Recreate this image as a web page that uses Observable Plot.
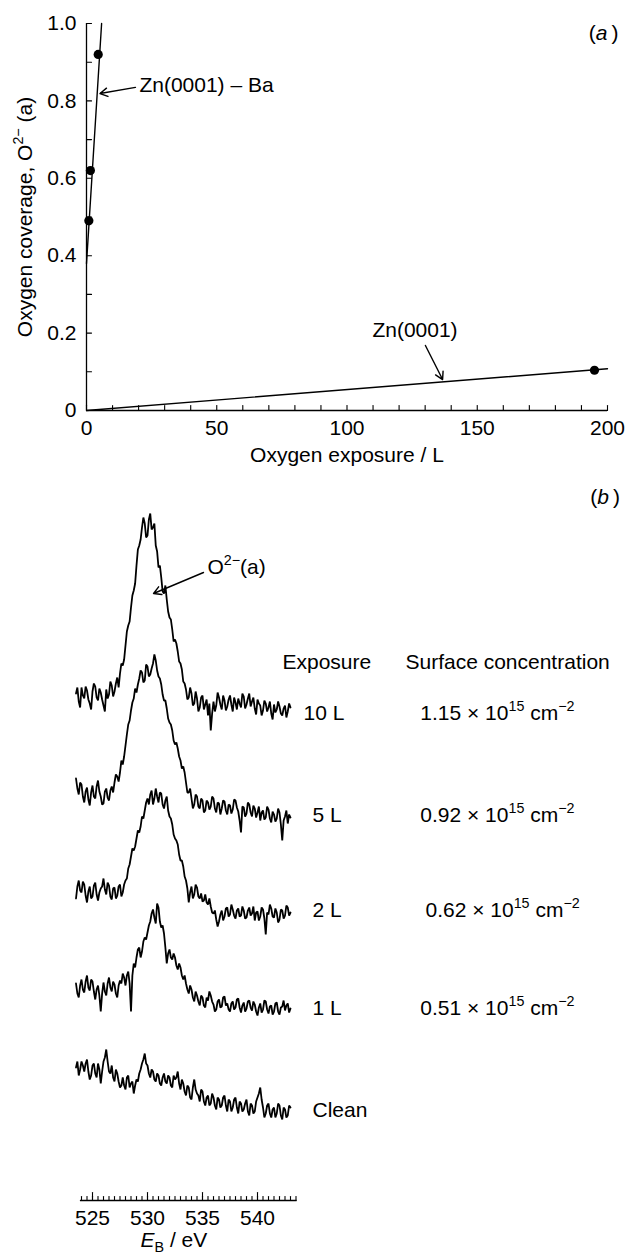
<!DOCTYPE html>
<html><head><meta charset="utf-8">
<script src="https://cdn.jsdelivr.net/npm/d3@7"></script>
<script src="https://cdn.jsdelivr.net/npm/@observablehq/plot@0.6"></script>
<style>
body{margin:0;background:#fff}
#chart{width:629px}
#chart svg{display:block;overflow:visible}
</style>
</head><body><div id="chart"></div>
<script>
// ---------- Panel (a) data ----------
const baExposure = [0.9, 1.5, 4.5];
const baCoverage = [0.49, 0.62, 0.92];
const znExposure = [195];
const znCoverage = [0.104];
const baFitExposure = [0, 5.8];
const baFitCoverage = [0.38, 1.0];
const znFitExposure = [0, 200];
const znFitCoverage = [0, 0.108];
const xTicksA = [0, 50, 100, 150, 200];
const xTickLabelsA = ["0", "50", "100", "150", "200"];
const xMinorA = [0,10,20,30,40,50,60,70,80,90,100,110,120,130,140,150,160,170,180,190,200];
const yTicksA = [0, 0.2, 0.4, 0.6, 0.8, 1.0];
const yTickLabelsA = ["0", "0.2", "0.4", "0.6", "0.8", "1.0"];
const yMinorA = [0.1,0.2,0.3,0.4,0.5,0.6,0.7,0.8,0.9,1.0];

// ---------- Panel (b) data ----------
const E0 = 523.5, dE = 0.125; // sampling grid of the spectra, eV
const exposures = ["10 L", "5 L", "2 L", "1 L", "Clean"];
const concentrations = ["1.15 × 10^{15} cm^{−2}", "0.92 × 10^{15} cm^{−2}", "0.62 × 10^{15} cm^{−2}", "0.51 × 10^{15} cm^{−2}"];
const offsets = [505, 410, 310, 213, 133];
const s10 = [2,8,-6,-12,8,0,-3,9,5,-4,-8,-14,4,12,9,-2,-5,7,3,-4,-10,-16,6,-3,1,14,10,-1,4,12,18,8,22,32,30,36,50,64,70,74,88,100,105,112,130,146,150,156,168,178,172,158,160,176,182,166,168,172,150,144,128,130,118,104,102,110,96,84,78,76,66,54,56,52,44,34,32,26,14,12,6,-4,-2,8,2,-10,-8,4,-3,-16,-12,-2,0,-14,-9,-4,-20,-8,-35,-18,-6,-16,-10,3,-2,-9,-14,0,-5,-15,-11,-4,0,-9,-16,-2,-7,-14,-3,-8,-12,2,-1,-13,-9,-3,2,-11,-6,-2,-13,-19,-4,-8,-10,-20,-15,-5,-8,-16,-12,-6,-18,-24,-9,-17,-14,-6,-11,-18,-20,-13,-10,-22,-16,-8,-12];
const s5 = [12,2,-4,8,6,-6,-12,-1,3,-9,-15,-2,5,-6,-8,4,10,-1,-6,-14,-13,-1,2,-7,-10,0,4,-2,8,16,14,9,18,30,26,34,45,56,66,70,80,88,92,102,98,106,112,120,118,108,110,126,124,114,116,122,127,136,130,120,114,112,106,96,90,90,82,72,68,66,60,50,46,48,42,34,30,22,24,18,8,-2,-2,2,-8,-18,-14,-4,-6,-16,-18,-8,-10,-22,-20,-10,-12,-19,-16,-6,-8,-18,-22,-12,-13,-24,-18,-10,-11,-20,-24,-14,-15,-23,-19,-9,-10,-17,-21,-30,-42,-16,-17,-26,-23,-12,-14,-22,-26,-15,-18,-27,-22,-16,-30,-22,-20,-29,-27,-16,-19,-28,-32,-21,-24,-31,-28,-18,-22,-34,-50,-30,-26,-20,-33,-24,-27];
const s2 = [-8,4,10,0,-2,9,6,-5,-12,-1,4,-8,-6,5,8,-4,-10,-2,2,4,12,1,-4,8,5,-6,-9,2,3,-8,-5,4,6,-6,-2,6,10,12,22,26,34,42,40,44,52,60,58,64,74,72,80,88,92,86,96,100,86,92,102,94,88,98,97,86,82,90,94,80,74,72,66,56,52,50,46,36,30,30,24,14,10,2,-12,-2,4,-8,-4,6,3,-6,-8,-3,-11,-10,-4,-12,-14,-8,-16,-22,-23,-20,-29,-36,-31,-24,-20,-30,-26,-18,-17,-26,-24,-14,-19,-25,-28,-20,-18,-26,-25,-16,-20,-28,-27,-20,-17,-25,-23,-16,-30,-22,-21,-30,-26,-17,-19,-28,-44,-22,-24,-14,-18,-26,-27,-18,-22,-32,-29,-19,-20,-28,-25,-15,-17,-25,-22];
const s1 = [4,-6,-10,2,8,-2,-5,6,12,0,-3,8,6,-4,-12,-2,2,-8,-24,-6,5,-4,-8,4,10,0,-4,6,3,-6,-10,2,7,4,14,10,2,12,16,4,-24,12,24,20,30,38,40,30,36,46,50,48,55,62,66,74,78,70,64,84,80,66,60,62,54,40,24,34,38,30,28,34,30,22,18,24,20,12,8,12,4,-2,-6,2,-2,-10,-14,-4,-8,-14,-18,-8,-10,-18,-20,-10,-13,-4,-8,-14,-17,-24,-22,-14,-12,-20,-19,-10,-9,-18,-16,-22,-24,-16,-14,-22,-20,-12,-11,-20,-25,-18,-15,-24,-21,-14,-13,-20,-23,-14,-17,-24,-28,-20,-16,-25,-22,-13,-14,-22,-26,-19,-18,-27,-24,-16,-15,-24,-27,-20,-19,-13,-23,-18,-16,-25,-21];
const s0 = [0,6,-8,-2,6,2,-4,4,8,-4,-12,-8,2,4,-6,-10,4,-2,-16,-4,6,10,18,6,-4,-6,2,-10,-14,-2,-6,-14,-20,-18,-10,-18,-22,-10,-8,-20,-16,-14,-26,-18,-12,-14,-6,-2,4,8,14,4,2,-6,-10,-2,-4,-12,-14,-6,-8,-16,-18,-10,-6,-14,-16,-8,-10,-18,-20,-8,-12,-10,-4,-16,-22,-12,-16,-24,-28,-18,-20,-30,-32,-20,-12,-22,-26,-28,-34,-22,-24,-34,-38,-30,-28,-38,-36,-26,-30,-38,-42,-30,-32,-40,-38,-30,-28,-38,-44,-32,-34,-44,-40,-32,-30,-40,-46,-34,-36,-44,-42,-36,-32,-44,-48,-36,-38,-46,-44,-34,-30,-26,-20,-32,-40,-50,-46,-38,-36,-46,-50,-42,-40,-50,-46,-36,-38,-48,-52,-40,-42,-50,-48,-38,-40];
const spectra = [s10, s5, s2, s1, s0];
const xTicksB = [525, 530, 535, 540];
const xTickLabelsB = ["525", "530", "535", "540"];
const xMinorB = d3.range(524, 543.51, 0.5);

const FONT = "'Liberation Sans', Arial, Helvetica, sans-serif";
const FS = 21;
const tickShape = {draw(ctx, l) { ctx.moveTo(0, 0); ctx.lineTo(0, -l); }};

function richify(svg, base) {
  const ns = "http://www.w3.org/2000/svg";
  svg.querySelectorAll("text").forEach(t => {
    const s = t.textContent;
    if (!/\^\{|_\{|\*/.test(s)) return;
    while (t.firstChild) t.removeChild(t.firstChild);
    const parts = s.split(/(\^\{[^}]*\}|_\{[^}]*\}|\*[^*]+\*)/).filter(p => p);
    let cur = 0;
    for (const p of parts) {
      let txt = p, shift = 0, small = false, italic = false;
      if (p.startsWith("^{")) { txt = p.slice(2, -1); shift = -0.42; small = true; }
      else if (p.startsWith("_{")) { txt = p.slice(2, -1); shift = 0.25; small = true; }
      else if (p.length > 2 && p[0] === "*" && p[p.length - 1] === "*") { txt = p.slice(1, -1); italic = true; }
      const ts = document.createElementNS(ns, "tspan");
      const dy = (shift - cur) * base;
      if (dy) ts.setAttribute("dy", dy.toFixed(2));
      if (small) ts.setAttribute("font-size", (base * 0.68).toFixed(1));
      if (italic) ts.setAttribute("font-style", "italic");
      ts.textContent = txt;
      t.appendChild(ts);
      cur = shift;
    }
  });
}

// ---------- Panel (a) ----------
const plotA = Plot.plot({
  width: 629, height: 470,
  marginLeft: 86, marginRight: 22, marginTop: 23, marginBottom: 60,
  x: {domain: [0, 200], axis: null},
  y: {domain: [0, 1], axis: null},
  style: {fontFamily: FONT, fontSize: FS + "px", background: "white", color: "black"},
  marks: [
    Plot.ruleY([0], {x1: 0, x2: 200, stroke: "black", strokeWidth: 1.3}),
    Plot.ruleX([0], {y1: 0, y2: 1, stroke: "black", strokeWidth: 1.3}),
    Plot.vector(xMinorA, {x: d => d, y: 0, length: 5, rotate: 0, anchor: "start", shape: tickShape, stroke: "black", strokeWidth: 1.1}),
    Plot.vector(yMinorA, {x: 0, y: d => d, length: 5, rotate: 90, anchor: "start", shape: tickShape, stroke: "black", strokeWidth: 1.1}),
    Plot.text(xTicksA, {x: d => d, y: 0, text: (d, i) => xTickLabelsA[i], dy: 18, fontSize: FS, fill: "black"}),
    Plot.text(yTicksA, {x: 0, y: d => d, text: (d, i) => yTickLabelsA[i], dx: -10, textAnchor: "end", fontSize: FS, fill: "black"}),
    Plot.text(["Oxygen exposure / L"], {frameAnchor: "bottom", lineAnchor: "middle", dy: 45, fontSize: FS, fill: "black"}),
    Plot.text(["Oxygen coverage, O^{2−} (a)"], {frameAnchor: "left", textAnchor: "middle", lineAnchor: "middle", dx: -61, rotate: -90, fontSize: FS, fill: "black"}),
    Plot.line(baFitExposure, {x: d => d, y: (d, i) => baFitCoverage[i], stroke: "black", strokeWidth: 1.4}),
    Plot.line(znFitExposure, {x: d => d, y: (d, i) => znFitCoverage[i], stroke: "black", strokeWidth: 1.4}),
    Plot.dot(baExposure, {x: d => d, y: (d, i) => baCoverage[i], r: 4.6, fill: "black"}),
    Plot.dot(znExposure, {x: d => d, y: (d, i) => znCoverage[i], r: 4.6, fill: "black"}),
    Plot.text(["Zn(0001) – Ba"], {x: 20.3, y: 0.84, textAnchor: "start", fontSize: FS, fill: "black"}),
    Plot.arrow([0], {x1: 18.8, y1: 0.835, x2: 5.2, y2: 0.819, stroke: "black", strokeWidth: 1.4, headLength: 9}),
    Plot.text(["Zn(0001)"], {x: 126.1, y: 0.207, fontSize: FS, fill: "black"}),
    Plot.arrow([0], {x1: 130.1, y1: 0.168, x2: 136.7, y2: 0.080, stroke: "black", strokeWidth: 1.4, headLength: 9}),
    Plot.text(["(*a*\u2009)"], {x: 198.5, y: 0.974, fontSize: FS, fill: "black"})
  ]
});

// ---------- Panel (b) ----------
const rowsB = [];
spectra.forEach((arr, k) => arr.forEach((v, i) => rowsB.push({E: E0 + dE * i, v: offsets[k] + v, series: exposures[k]})));
const labelYB = [487, 385, 290, 192, 90];
const labelXB = [544.18, 545, 545, 545, 545];
const concXB = [554.8, 554.8, 555.27, 554.8];

const plotB = Plot.plot({
  width: 629, height: 788,
  marginLeft: 70, marginRight: 328, marginTop: 0, marginBottom: 58,
  x: {domain: [523, 544], axis: null},
  y: {domain: [0, 730], axis: null},
  style: {fontFamily: FONT, fontSize: FS + "px", background: "white", color: "black"},
  marks: [
    Plot.line(rowsB, {x: "E", y: "v", z: "series", stroke: "black", strokeWidth: 1.8, strokeLinejoin: "miter"}),
    Plot.ruleY([0], {x1: 523.9, x2: 543.6, stroke: "black", strokeWidth: 1.3}),
    Plot.vector(xMinorB, {x: d => d, y: 0, length: 4, rotate: 0, anchor: "start", shape: tickShape, stroke: "black", strokeWidth: 1.1}),
    Plot.vector(xTicksB, {x: d => d, y: 0, length: 8, rotate: 0, anchor: "start", shape: tickShape, stroke: "black", strokeWidth: 1.1}),
    Plot.text(xTicksB, {x: d => d, y: 0, text: (d, i) => xTickLabelsB[i], dy: 18, fontSize: FS, fill: "black"}),
    Plot.text(["*E*_{B} / eV"], {x: 532.4, y: 0, dy: 40, fontSize: FS, fill: "black"}),
    Plot.text(exposures, {x: (d, i) => labelXB[i], y: (d, i) => labelYB[i], textAnchor: "start", fontSize: FS, fill: "black"}),
    Plot.text(concentrations, {x: (d, i) => concXB[i], y: (d, i) => labelYB[i], textAnchor: "start", fontSize: FS, fill: "black"}),
    Plot.text(["Exposure"], {x: 542.27, y: 538, textAnchor: "start", fontSize: FS, fill: "black"}),
    Plot.text(["Surface concentration"], {x: 553.45, y: 538, textAnchor: "start", fontSize: FS, fill: "black"}),
    Plot.text(["O^{2−}(a)"], {x: 535.45, y: 633, textAnchor: "start", fontSize: FS, fill: "black"}),
    Plot.arrow([0], {x1: 535.09, y1: 628, x2: 530.55, y2: 607, stroke: "black", strokeWidth: 1.4, headLength: 9}),
    Plot.text(["(*b*\u2009)"], {x: 571.6, y: 703, fontSize: FS, fill: "black"})
  ]
});

const root = document.getElementById("chart");
root.appendChild(plotA);
root.appendChild(plotB);
richify(plotA, FS);
richify(plotB, FS);
</script>
</body></html>
